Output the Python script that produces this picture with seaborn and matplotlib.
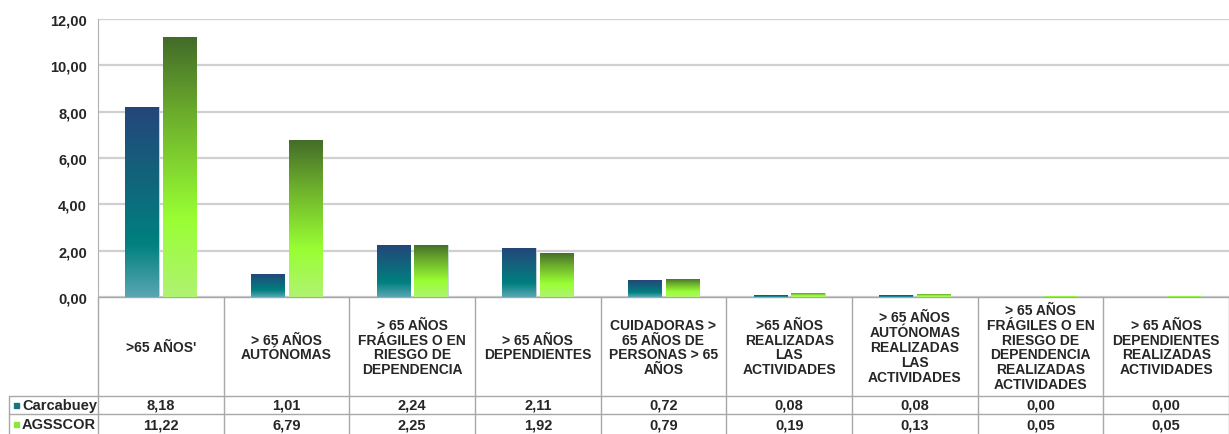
import numpy as np
import pandas as pd
import matplotlib
matplotlib.use('Agg')
import matplotlib.pyplot as plt
import seaborn as sns
from matplotlib.colors import LinearSegmentedColormap
from matplotlib.patches import Rectangle
from matplotlib.transforms import blended_transform_factory

categorias = [
    ">65 AÑOS'",
    "> 65 AÑOS\nAUTÓNOMAS",
    "> 65 AÑOS\nFRÁGILES O EN\nRIESGO DE\nDEPENDENCIA",
    "> 65 AÑOS\nDEPENDIENTES",
    "CUIDADORAS >\n65 AÑOS DE\nPERSONAS > 65\nAÑOS",
    ">65 AÑOS\nREALIZADAS\nLAS\nACTIVIDADES",
    "> 65 AÑOS\nAUTÓNOMAS\nREALIZADAS\nLAS\nACTIVIDADES",
    "> 65 AÑOS\nFRÁGILES O EN\nRIESGO DE\nDEPENDENCIA\nREALIZADAS\nACTIVIDADES",
    "> 65 AÑOS\nDEPENDIENTES\nREALIZADAS\nACTIVIDADES",
]
series = ["Carcabuey", "AGSSCOR"]
carcabuey = [8.18, 1.01, 2.24, 2.11, 0.72, 0.08, 0.08, 0.00, 0.00]
agsscor = [11.22, 6.79, 2.25, 1.92, 0.79, 0.19, 0.13, 0.05, 0.05]
yticks = [0, 2, 4, 6, 8, 10, 12]

W, H = 1229, 435

sns.set_style('white')
plt.rcParams['font.family'] = ['Liberation Sans', 'DejaVu Sans']

df = pd.DataFrame({
    'cat': list(range(len(categorias))) * 2,
    'serie': [series[0]] * len(categorias) + [series[1]] * len(categorias),
    'valor': carcabuey + agsscor,
})

fig = plt.figure(figsize=(W / 100, H / 100), dpi=100)
ax = fig.add_axes([98 / W, (H - 298) / H, 1 - 98 / W, 278 / H])

sns.barplot(data=df, x='cat', y='valor', hue='serie', hue_order=series,
            palette=['#0e6f80', '#8ee63a'], width=0.6, gap=0.12,
            legend=False, ax=ax, edgecolor='#c8d8d8', linewidth=0.6, zorder=3)

# degradados estilo Excel
cmaps = {
    series[0]: LinearSegmentedColormap.from_list('c1', [(0, '#5aa6b4'), (0.28, '#00807f'), (1, '#244679')]),
    series[1]: LinearSegmentedColormap.from_list('c2', [(0, '#b0f272'), (0.3, '#99ff33'), (0.7, '#6cae2c'), (1, '#436b29')]),
}
n = len(categorias)
grad = np.linspace(0, 1, 256).reshape(-1, 1)
for i, p in enumerate(ax.patches[:2 * n]):
    h = p.get_height()
    if h <= 0:
        continue
    x0 = p.get_x()
    w = p.get_width()
    cm = cmaps[series[0]] if i < n else cmaps[series[1]]
    im = ax.imshow(grad, cmap=cm, origin='lower', aspect='auto',
                   extent=[x0, x0 + w, 0, h], zorder=3.5)
    im.set_clip_path(p)

ax.set_xlim(-0.5, n - 0.5)
ax.set_ylim(0, 12)
ax.set_yticks(yticks)
ax.set_yticklabels([f'{v:.2f}'.replace('.', ',') for v in yticks],
                   fontweight='bold', fontsize=10.5)
ax.set_xticks([])
ax.set_xlabel('')
ax.set_ylabel('')
ax.tick_params(axis='y', length=0, pad=8)
ax.yaxis.grid(True, color='#d0d0d0', linewidth=1.6, zorder=0)
ax.set_axisbelow(True)
for s in ['top', 'right', 'bottom']:
    ax.spines[s].set_visible(False)
ax.spines['left'].set_color('#b0b0b0')

# tabla de datos
gris = '#a8a8a8'
tr = blended_transform_factory(ax.transData, fig.transFigure)
fy = lambda py: 1 - py / H
fx = lambda px: px / W

for k in range(n + 1):
    ax.plot([k - 0.5, k - 0.5], [fy(298), fy(435)], color=gris, lw=1,
            transform=tr, clip_on=False)
ax.plot([-0.5, n - 0.5], [fy(298), fy(298)], color=gris, lw=1,
        transform=tr, clip_on=False)
for py in [397, 415]:
    ax.plot([fx(9), 1], [fy(py), fy(py)], color=gris, lw=1,
            transform=fig.transFigure, clip_on=False)
ax.plot([fx(9), fx(9)], [fy(397), fy(435)], color=gris, lw=1,
        transform=fig.transFigure, clip_on=False)

for k, cat in enumerate(categorias):
    ax.text(k, fy(348), cat, transform=tr, ha='center', va='center',
            fontsize=10, fontweight='bold', linespacing=1.08, clip_on=False)
    ax.text(k, fy(406), f'{carcabuey[k]:.2f}'.replace('.', ','), transform=tr,
            ha='center', va='center', fontsize=10.5, fontweight='bold')
    ax.text(k, fy(425.5), f'{agsscor[k]:.2f}'.replace('.', ','), transform=tr,
            ha='center', va='center', fontsize=10.5, fontweight='bold')

for nombre, color, py in [(series[0], '#1a7382', 406), (series[1], '#8ee63a', 425.5)]:
    fig.add_artist(Rectangle((fx(14), fy(py) - 2.5 / H), 5 / W, 5 / H,
                             color=color, transform=fig.transFigure))
    fig.text(fx(22), fy(py), nombre, ha='left', va='center',
             fontsize=10.5, fontweight='bold')

fig.savefig('out.png', dpi=100)
